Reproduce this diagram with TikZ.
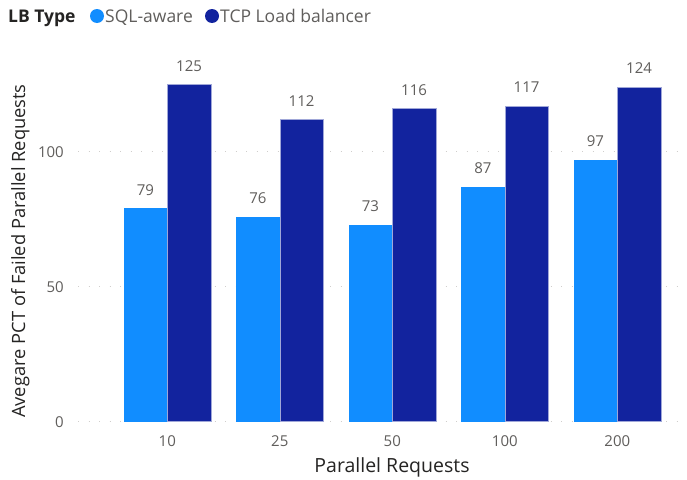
\documentclass[tikz,border=0pt]{standalone}
\usepackage{fontspec}
\setmainfont{Open Sans}
\definecolor{sqlblue}{HTML}{118DFF}
\definecolor{tcpblue}{HTML}{12239E}
\definecolor{labelgray}{HTML}{605E5C}
\definecolor{titlegray}{HTML}{252423}
\definecolor{gridgray}{HTML}{D0CECC}
\begin{document}
\begin{tikzpicture}[x=1pt,y=-1pt,
  barA/.style={fill=sqlblue},
  barB/.style={fill=tcpblue},
  vallabel/.style={anchor=base,text=labelgray,font=\fontsize{15}{17}\selectfont,inner sep=0pt},
  ticklabel/.style={text=labelgray,font=\fontsize{15}{17}\selectfont,inner sep=0pt},
  axistitle/.style={text=titlegray,inner sep=0pt},
  gridline/.style={gridgray,line width=1.1pt,dash pattern=on 1.1pt off 9.4pt},
  legtext/.style={anchor=base west,text=labelgray,font=\fontsize{17.5}{20}\selectfont,inner sep=0pt}]
\useasboundingbox (0,0) rectangle (687,479);
\fill[white] (0,0) rectangle (687,479);
% gridlines at 0, 50, 100 (baseline y=421.7, 2.7px per unit)
\foreach \v/\nm in {0/g0,50/g50,100/g100}{
  \pgfmathsetmacro{\yy}{421.7-2.7*\v}
  \coordinate (\nm L) at (78,\yy);
  \coordinate (\nm R) at (684,\yy);
  \draw[gridline] (\nm L) -- (\nm R);
  \node[ticklabel,anchor=east] (t\nm) at (64,\yy) {\v};
}
% bars: group centre, category, SQL-aware value, TCP value
\foreach \cx/\cat/\a/\b in {167.3/10/79/125, 279.8/25/76/112, 392.3/50/73/116, 504.8/100/87/117, 617.3/200/97/124}{
  \pgfmathsetmacro{\ya}{421.7-2.7*\a}
  \pgfmathsetmacro{\yb}{421.7-2.7*\b}
  \fill[barA] (\cx-43.8,421.7) rectangle (\cx,\ya);
  \fill[barB] (\cx,421.7) rectangle (\cx+43.5,\yb);
  \draw[white!60!tcpblue,line width=0.5pt] (\cx,421.7) rectangle (\cx+43.5,\yb);
  \node[vallabel] (va\cat) at (\cx-21.9,\ya-13) {\a};
  \node[vallabel] (vb\cat) at (\cx+21.75,\yb-13) {\b};
  \node[ticklabel,anchor=base] (x\cat) at (\cx,446) {\cat};
}
% axis titles
\node[axistitle,font=\fontsize{19.5}{22}\selectfont,anchor=base] (xtitle) at (392,472) {Parallel Requests};
\node[axistitle,font=\fontsize{18.3}{22}\selectfont,anchor=base,rotate=90] (ytitle) at (25,251) {Avegare PCT of Failed Parallel Requests};
% legend
\node[anchor=base west,text=titlegray,font=\bfseries\fontsize{17.5}{20}\selectfont,inner sep=0pt] (legtitle) at (8,22) {LB Type};
\fill[sqlblue] (97,16) circle (7);
\node[legtext] (legA) at (105,22) {SQL-aware};
\fill[tcpblue] (212,16) circle (7);
\node[legtext] (legB) at (220,22) {TCP Load balancer};
\end{tikzpicture}
\end{document}
